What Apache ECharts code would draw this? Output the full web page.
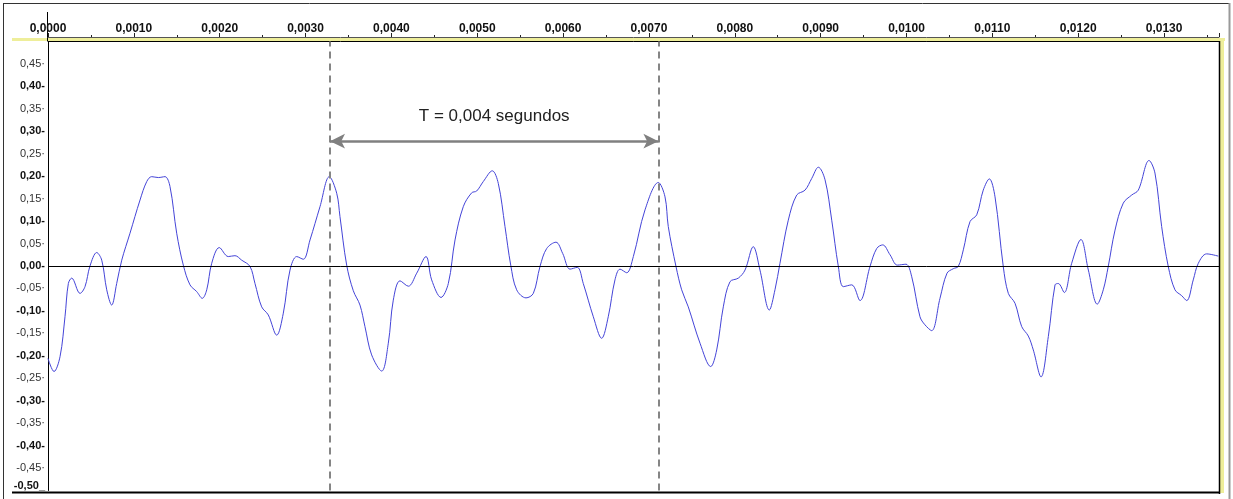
<!DOCTYPE html>
<html>
<head>
<meta charset="utf-8">
<script src="https://cdn.jsdelivr.net/npm/echarts@6/dist/echarts.min.js"></script>
<style>
html,body{margin:0;padding:0;background:#fff;}
#chart{width:1233px;height:499px;}
</style>
</head>
<body>
<div id="chart"></div>
<script>
// time in seconds
var times = [0.00000,0.00007,0.00014,0.000198,0.000237,0.000276,0.000373,0.000431,0.000489,0.000567,0.000626,0.000684,0.000742,0.000800,0.000859,0.000955,0.001072,0.001150,0.001208,0.001285,0.001363,0.001421,0.001499,0.001576,0.001654,0.001732,0.001797,0.001849,0.001907,0.001995,0.002100,0.002178,0.002256,0.002353,0.002411,0.002489,0.002566,0.002664,0.002741,0.002819,0.002897,0.002974,0.003052,0.003168,0.003277,0.003363,0.003401,0.003479,0.003556,0.003634,0.003692,0.003770,0.003887,0.003964,0.004022,0.004100,0.004197,0.004295,0.004403,0.004469,0.004578,0.004663,0.004741,0.004837,0.004935,0.004993,0.005070,0.005175,0.005245,0.005323,0.005390,0.005459,0.005568,0.005653,0.005731,0.005809,0.005917,0.005995,0.006080,0.006165,0.006235,0.006352,0.006449,0.006526,0.006604,0.006663,0.006741,0.006818,0.006954,0.007109,0.007187,0.007225,0.007315,0.007381,0.007458,0.007595,0.007719,0.007789,0.007866,0.007944,0.008041,0.008119,0.008215,0.008293,0.008402,0.008468,0.008526,0.008623,0.008721,0.008818,0.008896,0.008973,0.009051,0.009129,0.009206,0.009264,0.009362,0.009458,0.009575,0.009653,0.009723,0.009808,0.009893,0.009994,0.010061,0.010157,0.010215,0.010293,0.010390,0.010472,0.010545,0.010603,0.010662,0.010740,0.010818,0.010894,0.010965,0.011031,0.011127,0.011186,0.011264,0.011342,0.011419,0.011477,0.011567,0.011652,0.011730,0.011768,0.011838,0.011924,0.012032,0.012118,0.012222,0.012292,0.012350,0.012429,0.012525,0.012623,0.012700,0.012825,0.012894,0.012972,0.013049,0.013127,0.013205,0.013264,0.013340,0.013399,0.013496,0.013632];
var amplitude = [-0.206,-0.235,-0.202,-0.113,-0.039,-0.027,-0.061,-0.046,0.000,0.030,0.013,-0.053,-0.087,-0.039,0.013,0.073,0.147,0.188,0.199,0.197,0.199,0.177,0.073,0.002,-0.042,-0.057,-0.072,-0.053,0.006,0.041,0.021,0.023,0.013,-0.001,-0.039,-0.091,-0.109,-0.154,-0.105,-0.009,0.021,0.015,0.058,0.132,0.199,0.162,0.110,0.002,-0.055,-0.087,-0.135,-0.198,-0.234,-0.172,-0.076,-0.033,-0.045,-0.016,0.021,-0.031,-0.070,-0.039,0.058,0.132,0.163,0.167,0.188,0.212,0.184,0.088,0.002,-0.053,-0.071,-0.061,-0.001,0.039,0.053,0.028,-0.007,-0.003,-0.039,-0.113,-0.161,-0.113,-0.031,-0.007,-0.015,0.021,0.125,0.186,0.154,0.088,-0.001,-0.053,-0.091,-0.172,-0.224,-0.187,-0.091,-0.035,-0.027,-0.009,0.043,-0.009,-0.098,-0.053,0.006,0.102,0.158,0.169,0.195,0.220,0.192,0.102,-0.001,-0.046,-0.042,-0.077,-0.001,0.039,0.047,0.025,0.002,0.004,-0.024,-0.113,-0.131,-0.144,-0.072,-0.016,-0.006,-0.001,0.036,0.099,0.114,0.169,0.194,0.154,-0.001,-0.061,-0.083,-0.135,-0.156,-0.187,-0.247,-0.157,-0.042,-0.039,-0.059,0.006,0.059,-0.009,-0.085,-0.053,-0.001,0.080,0.140,0.158,0.169,0.235,0.207,0.088,-0.001,-0.053,-0.066,-0.077,-0.031,0.006,0.027,0.022];
var periodStart = 0.003285;
var periodEnd = 0.00711;
var arrowLevel = 0.278;
var periodLabel = 'T = 0,004 segundos';
var xMin = 0, xMax = 0.01364, xStep = 0.001;
var yMin = -0.5, yMax = 0.5, yStep = 0.05;

var data = times.map(function(t, i){ return [t, amplitude[i]]; });

var chart = echarts.init(document.getElementById('chart'), null, {renderer:'canvas'});
var font = '"Liberation Sans", Arial, sans-serif';
var dashStyle = {color: '#858585', width: 2, type: [7, 5]};
var option = {
  animation: false,
  backgroundColor: '#ffffff',
  grid: {left: 48, right: 14, top: 41.5, bottom: 8.5, containLabel: false},
  xAxis: {
    type: 'value', position: 'top', min: xMin, max: xMax, interval: xStep, offset: 4.5,
    axisLine: {show: true, onZero: false, lineStyle: {color: '#555', width: 1}},
    axisTick: {show: true, length: 4, inside: false, lineStyle: {color: '#222'}},
    minorTick: {show: true, splitNumber: 2, length: 2, lineStyle: {color: '#222'}},
    splitLine: {show: false},
    axisLabel: {
      show: true, margin: 2, showMaxLabel: false,
      fontFamily: font, fontSize: 12, fontWeight: 'bold', color: '#111',
      formatter: function(v){ return v.toFixed(4).replace('.', ','); }
    }
  },
  yAxis: {
    type: 'value', min: yMin, max: yMax, interval: yStep,
    axisLine: {show: true, onZero: false, lineStyle: {color: '#000', width: 1}},
    axisTick: {show: false},
    splitLine: {show: false},
    axisLabel: {
      show: true, margin: 3, fontFamily: font, fontSize: 11, color: '#111',
      formatter: function(v){
        var r = Math.round(v * 100);
        if (r === 50) return '';
        var s = (v < 0 ? '-' : '') + Math.abs(v).toFixed(2).replace('.', ',');
        if (r === -50) return '{e|' + s + '_}';
        if (r % 10 === 0) return '{b|' + s + '-}';
        return '{n|' + s + '·}';
      },
      rich: {
        b: {fontFamily: font, fontSize: 11, fontWeight: 'bold', color: '#111'},
        e: {fontFamily: font, fontSize: 11, fontWeight: 'bold', color: '#111', padding: [0, 0, 10, 0]},
        n: {fontFamily: font, fontSize: 11, color: '#333'}
      }
    }
  },
  series: [{
    type: 'line',
    data: data,
    showSymbol: false,
    smooth: 0.35,
    lineStyle: {color: '#4444d8', width: 1},
    silent: true,
    markLine: {
      silent: true,
      symbol: 'none',
      animation: false,
      label: {show: false},
      data: [
        [{coord: [xMin, 0], lineStyle: {color: '#000', width: 1, type: 'solid'}}, {coord: [xMax, 0]}],
        [{coord: [periodStart, yMin], lineStyle: dashStyle}, {coord: [periodStart, yMax]}],
        [{coord: [periodEnd, yMin], lineStyle: dashStyle}, {coord: [periodEnd, yMax]}],
        [
          {coord: [periodStart, arrowLevel], symbol: 'arrow', symbolSize: [11, 15],
           lineStyle: {color: '#808080', width: 2.5, type: 'solid'},
           label: {show: true, position: 'middle', formatter: periodLabel, distance: 16,
                   fontFamily: font, fontSize: 17, color: '#222'}},
          {coord: [periodEnd, arrowLevel], symbol: 'arrow', symbolSize: [11, 15]}
        ]
      ]
    }
  }],
  graphic: [
    {type: 'line', shape: {x1: 3.5, y1: 3, x2: 3.5, y2: 499}, style: {stroke: '#333', lineWidth: 1}, silent: true},
    {type: 'line', shape: {x1: 3, y1: 3.5, x2: 1229, y2: 3.5}, style: {stroke: '#333', lineWidth: 1}, silent: true},
    {type: 'line', shape: {x1: 1229.5, y1: 3, x2: 1229.5, y2: 499}, style: {stroke: '#999', lineWidth: 2}, silent: true},
    {type: 'rect', shape: {x: 12, y: 38, width: 1213, height: 3}, style: {fill: '#eeee9a'}, silent: true},
    {type: 'rect', shape: {x: 1220, y: 38, width: 4, height: 455}, style: {fill: '#eeee9a'}, silent: true},
    {type: 'line', shape: {x1: 47.5, y1: 41.5, x2: 1219, y2: 41.5}, style: {stroke: '#000', lineWidth: 1}, silent: true},
    {type: 'line', shape: {x1: 1219.5, y1: 41, x2: 1219.5, y2: 494}, style: {stroke: '#000', lineWidth: 1.5}, silent: true},
    {type: 'line', shape: {x1: 12, y1: 492.5, x2: 1220, y2: 492.5}, style: {stroke: '#000', lineWidth: 2}, silent: true},
    {type: 'line', shape: {x1: 47.5, y1: 12, x2: 47.5, y2: 41}, style: {stroke: '#000', lineWidth: 1}, silent: true}
  ]
};
chart.setOption(option);
</script>
</body>
</html>
